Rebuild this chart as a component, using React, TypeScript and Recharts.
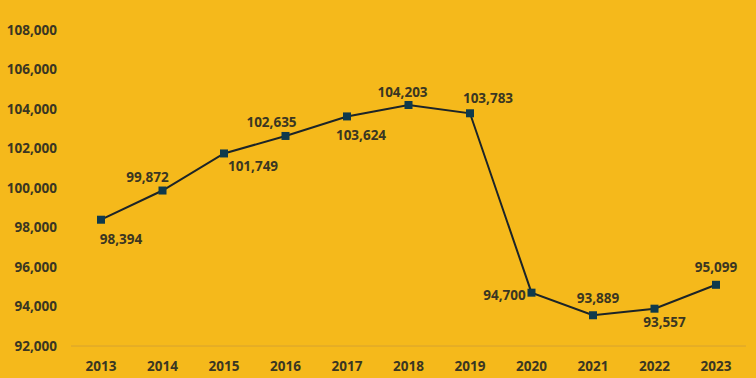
import React from "react";
import { LineChart, Line, XAxis, YAxis } from "recharts";

const years = ["2013", "2014", "2015", "2016", "2017", "2018", "2019", "2020", "2021", "2022", "2023"];
const values = [98394, 99872, 101749, 102635, 103624, 104203, 103783, 94700, 93557, 93889, 95099];
const valueLabels = ["98,394", "99,872", "101,749", "102,635", "103,624", "104,203", "103,783", "94,700", "93,889", "93,557", "95,099"];
const yTicks = [92000, 94000, 96000, 98000, 100000, 102000, 104000, 106000, 108000];

// label placement relative to each marker (dx, dy)
const labelOffsets: [number, number][] = [
  [20, 19], [-15, -14], [29, 13], [-14, -14], [14, 19], [-6, -13],
  [18, -15], [-27, 2], [5, -17], [10, 13], [0, -18],
];

const data = years.map((y, i) => ({ year: y, value: values[i], label: valueLabels[i] }));

const BG = "#F5B91B";
const TEXT = "#3A3622";
const LINE = "#1C2428";
const MARK = "#0F3A4C";
const FONT = "'Open Sans', sans-serif";

const Dot = (props: any) => {
  const { cx, cy, index, payload } = props;
  if (cx == null || cy == null) return null;
  const [dx, dy] = labelOffsets[index] || [0, -15];
  return (
    <g>
      <rect x={cx - 4} y={cy - 4} width={8} height={8} fill={MARK} />
      <text
        x={cx + dx}
        y={cy + dy}
        textAnchor="middle"
        dominantBaseline="central"
        fill={TEXT}
        fontFamily={FONT}
        fontWeight={700}
        fontSize={13.5}
      >
        {payload.label}
      </text>
    </g>
  );
};

export default function App() {
  return (
    <div style={{ position: "absolute", left: 0, top: 0, width: 756, height: 378, background: BG }}>
      <LineChart width={756} height={378} data={data} margin={{ top: 30, right: 10, bottom: 0, left: 0 }}>
        <XAxis
          dataKey="year"
          axisLine={{ stroke: "#D6A230", strokeWidth: 1 }}
          tickLine={false}
          tickMargin={9}
          height={32}
          padding={{ left: 30, right: 30 }}
          tick={{ fill: TEXT, fontFamily: FONT, fontWeight: 700, fontSize: 13.5 }}
          interval={0}
        />
        <YAxis
          domain={[92000, 108000]}
          ticks={yTicks}
          width={71}
          axisLine={false}
          tickLine={false}
          tickMargin={8}
          tickFormatter={(v: number) => v.toLocaleString("en-US")}
          tick={{ fill: TEXT, fontFamily: FONT, fontWeight: 700, fontSize: 13.5 }}
          interval={0}
        />
        <Line
          type="linear"
          dataKey="value"
          stroke={LINE}
          strokeWidth={2}
          dot={<Dot />}
          activeDot={false}
          isAnimationActive={false}
        />
      </LineChart>
    </div>
  );
}
